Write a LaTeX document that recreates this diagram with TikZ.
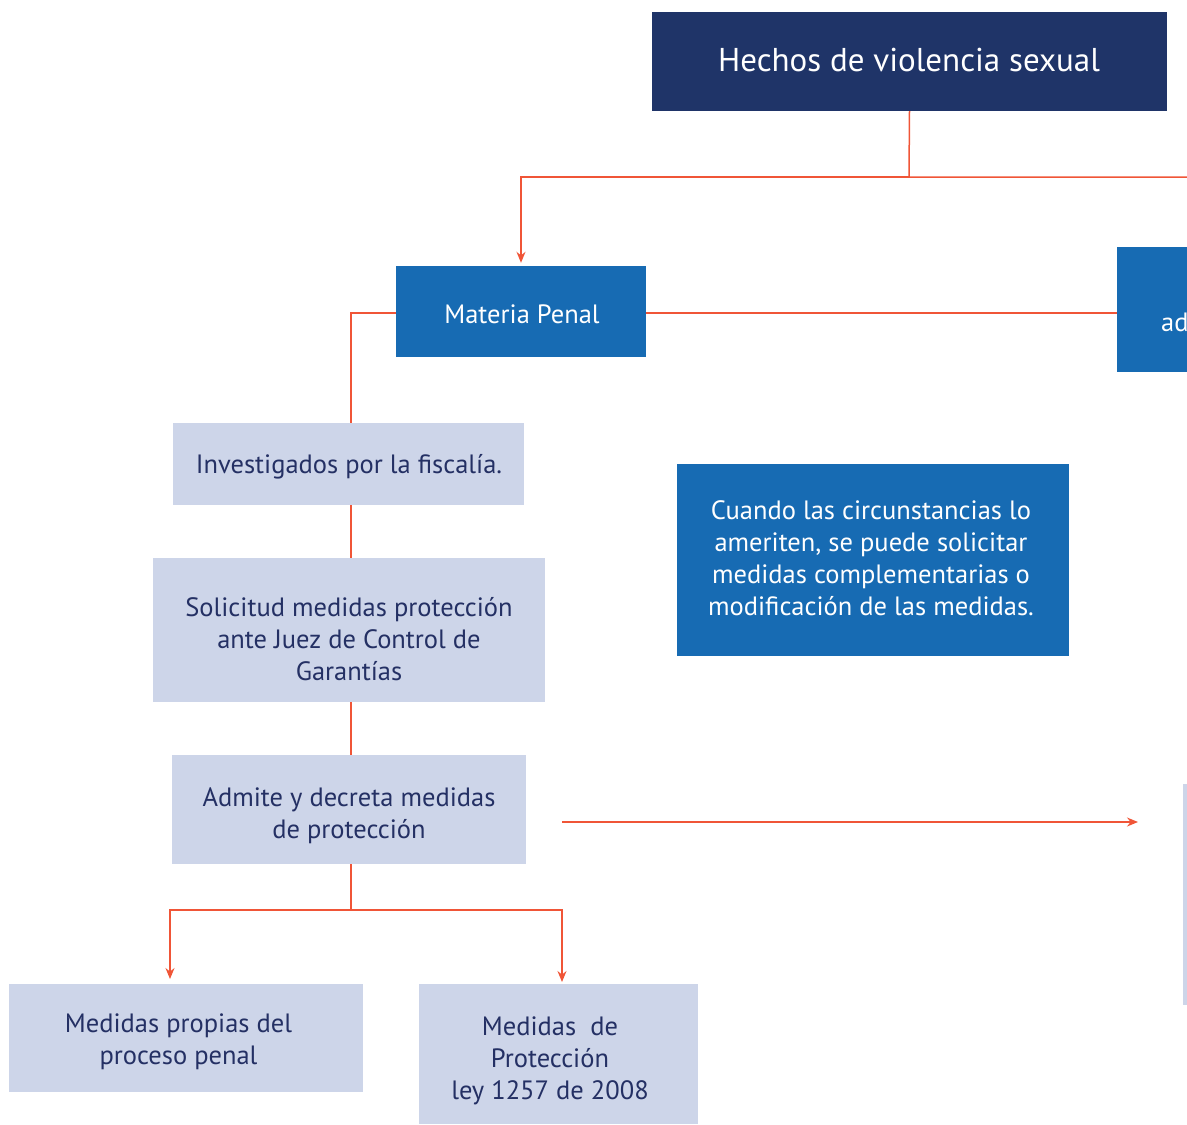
\documentclass[tikz,border=0pt]{standalone}
\usepackage{fontspec}
\setmainfont{PT Sans}
\usetikzlibrary{arrows.meta}
\definecolor{navybox}{RGB}{31,52,104}
\definecolor{bluebox}{RGB}{23,107,179}
\definecolor{lightbox}{RGB}{205,213,233}
\definecolor{navytext}{RGB}{36,48,100}
\definecolor{linkred}{RGB}{240,85,55}
\tikzset{
  bodyfont/.style={font=\fontsize{26.5}{32}\selectfont},
  basebox/.style={rectangle, inner sep=0pt, align=center},
  darkbox/.style={basebox, fill=navybox},
  bluenode/.style={basebox, fill=bluebox},
  lightnode/.style={basebox, fill=lightbox},
  whitetext/.style={bodyfont, text=white, align=center, inner sep=0pt},
  darktext/.style={bodyfont, text=navytext, align=center, inner sep=0pt},
  link/.style={draw=linkred, line width=1.5pt},
  arrowlink/.style={link, -{Stealth[length=11pt,width=9pt]}},
}
\begin{document}
\begin{tikzpicture}[x=1pt,y=-1pt]
\useasboundingbox (0,0) rectangle (1187,1125);
\clip (0,0) rectangle (1187,1125);
% boxes
\node[darkbox, minimum width=515pt, minimum height=99pt] (top) at (909.5,61.5) {};
\node[whitetext, font=\fontsize{33}{38}\selectfont] (toptext) at (909,60) {Hechos de violencia sexual};
\node[bluenode, minimum width=250pt, minimum height=91pt] (penal) at (521,311.5) {};
\node[whitetext] (penaltext) at (522,314) {Materia Penal};
\node[bluenode, minimum width=300pt, minimum height=125pt, anchor=west] (adm) at (1117,309.5) {};
\node[whitetext, anchor=base west] (admtext) at (1161,331) {ad};
\node[lightnode, minimum width=351pt, minimum height=82pt] (inv) at (348.5,464) {};
\node[darktext] (invtext) at (349,467) {Investigados por la fiscalía.};
\node[lightnode, minimum width=392pt, minimum height=144pt] (sol) at (349,630) {};
\node[darktext] (soltext) at (349,639) {Solicitud medidas protección\\ante Juez de Control de\\Garantías};
\node[lightnode, minimum width=354pt, minimum height=109pt] (adm2) at (349,809.5) {};
\node[darktext] (adm2text) at (349,815.5) {Admite y decreta medidas\\de protección};
\node[lightnode, minimum width=354pt, minimum height=108pt] (propias) at (186,1038) {};
\node[darktext] (propiastext) at (178.5,1042) {Medidas propias del\\proceso penal};
\node[lightnode, minimum width=279pt, minimum height=140pt] (prot) at (558.5,1054) {};
\node[darktext] (prottext) at (550,1061) {Medidas\ \ de\\Protección\\ley 1257 de 2008};
\node[bluenode, minimum width=392pt, minimum height=192pt] (cuando) at (873,560) {};
\node[whitetext] (cuandotext) at (871,558) {Cuando las circunstancias lo\\ameriten, se puede solicitar\\medidas complementarias o\\modificación de las medidas.};
\node[lightnode, minimum width=100pt, minimum height=221pt, anchor=west] (sliver) at (1183,894.5) {};
% coordinates
\coordinate (split1) at (909,177);
\coordinate (rightedge) at (1195,177);
\coordinate (arrstart) at (562,822);
\coordinate (arrend) at (1138,822);
\coordinate (split2) at (351,910);
\coordinate (penalout) at (646,313);
% connectors
\draw[link] (top.south) -- (split1) -- (rightedge);
\draw[arrowlink, shorten >=3pt] (split1) -| (penal.north);
\draw[link] (penal.west |- penalout) -| (inv.north -| split2);
\draw[link] (penalout) -- (penalout -| adm.west);
\draw[link] (inv.south -| split2) -- (sol.north -| split2);
\draw[link] (sol.south -| split2) -- (adm2.north -| split2);
\draw[link] (adm2.south -| split2) -- (split2);
\draw[arrowlink, shorten >=5pt] (split2) -| (170,984);
\draw[arrowlink, shorten >=2pt] (split2) -| (562,984);
\draw[arrowlink] (arrstart) -- (arrend);
\end{tikzpicture}
\end{document}
